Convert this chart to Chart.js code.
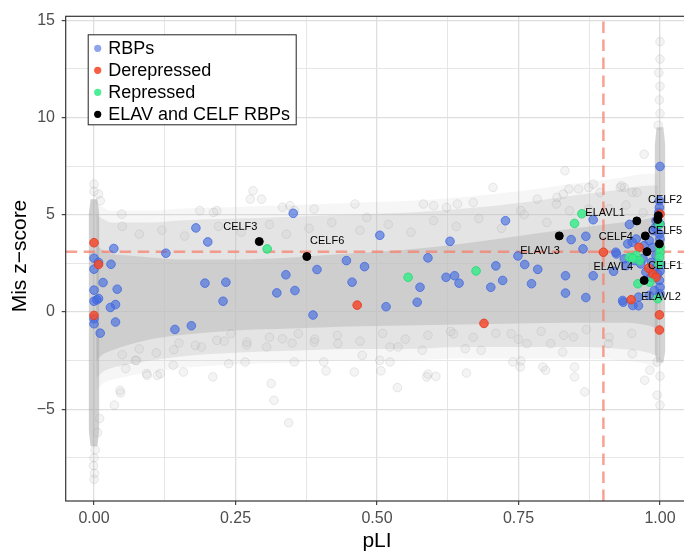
<!DOCTYPE html>
<html>
<head>
<meta charset="UTF-8">
<title>Mis z-score vs pLI</title>
<script src="https://cdn.jsdelivr.net/npm/chart.js@4"></script>
<style>
  html, body { margin: 0; padding: 0; background: #fff; }
  #frame { width: 684px; height: 554px; overflow: hidden; position: relative; }
  #c { display: block; }
</style>
</head>
<body>
<div id="frame"><canvas id="c" width="700" height="554"></canvas></div>
<script>
// axes
const xMajor = [0, 0.25, 0.5, 0.75, 1];
const xLabels = ['0.00', '0.25', '0.50', '0.75', '1.00'];
const xGrid = [0, 0.125, 0.25, 0.375, 0.5, 0.625, 0.75, 0.875, 1];
const yMajor = [-5, 0, 5, 10, 15];
const yLabels = ['\u22125', '0', '5', '10', '15'];
const yGrid = [-7.5, -5, -2.5, 0, 2.5, 5, 7.5, 10, 12.5, 15];

// thresholds (dashed lines)
const zCut = 3.09;
const pliCut = 0.9;

// RBPs  [pLI, mis z]
const rbps = [
  [0.000,2.76],[0.008,2.55],[0.000,2.20],[0.030,2.45],[0.035,3.26],[0.016,1.51],[0.041,1.17],[0.000,1.12],
  [0.008,0.69],[0.000,0.55],[0.005,0.62],[0.038,0.38],[0.029,0.23],[0.038,-0.52],[0.000,-0.61],[0.000,-0.35],
  [0.011,-1.09],[0.127,3.02],[0.180,4.32],[0.201,3.60],[0.143,-0.90],[0.172,-0.71],[0.196,1.48],[0.233,1.53],
  [0.228,0.55],[0.339,1.91],[0.323,0.98],[0.355,1.10],[0.352,5.07],[0.394,2.18],[0.387,-0.16],[0.446,2.64],
  [0.478,2.33],[0.456,1.53],[0.505,3.94],[0.516,0.27],[0.590,2.78],[0.629,3.63],[0.576,1.27],[0.571,0.50],
  [0.622,1.78],[0.637,1.86],[0.645,1.48],[0.710,2.37],[0.701,1.27],[0.722,1.62],[0.727,4.69],[0.749,2.88],
  [0.761,2.44],[0.784,2.19],[0.773,1.45],[0.843,3.72],[0.869,3.89],[0.864,3.24],[0.833,1.86],[0.833,0.97],
  [0.869,0.74],[0.882,1.86],[0.882,4.74],[0.918,2.09],[0.935,0.50],[0.962,0.32],[1.000,7.48],[0.923,2.98],
  [0.946,4.50],[0.951,3.58],[0.922,3.07],[0.937,2.73],[0.940,2.38],[0.955,2.64],[0.966,2.47],[0.981,3.67],
  [0.987,3.32],[0.992,4.35],[0.993,2.90],[0.990,2.22],[0.984,1.78],[0.999,1.62],[1.000,1.27],[1.000,0.93],
  [0.990,1.10],[0.981,0.85],[0.962,0.76],[0.934,0.59],[0.952,0.33],[0.999,5.72],[0.999,5.37],[0.998,5.12],
  [1.000,4.52],[0.999,4.01],[1.000,3.75],[0.993,4.69],[0.988,4.18],[0.972,3.41],[0.958,3.75],[0.943,3.50],
  [1.000,2.10],[1.000,2.45],[0.996,1.95],[0.975,2.05],[0.970,2.75],[0.985,2.55]
];
const derepressed = [
  [0.000,3.56],[0.008,2.44],[0.000,-0.18],[0.465,0.35],[0.689,-0.59],[0.900,3.07],[0.963,3.32],
  [0.987,1.96],[0.993,1.78],[0.949,0.63],[0.999,-0.15],[0.999,-0.93],[1.000,5.03],[0.980,2.25]
];
const repressed = [
  [0.306,3.24],[0.555,1.78],[0.675,2.11],[0.862,5.05],[0.849,4.55],[0.946,2.81],[0.958,2.90],[0.964,2.64],
  [0.961,1.45],[0.982,1.53],[0.999,4.52],[1.000,3.32],[1.000,3.07],[0.999,2.81],[0.998,2.47],[0.996,0.68],[0.952,2.75]
];
const elavCelf = [
  [0.292,3.62],[0.376,2.85],[0.822,3.91],[0.959,4.68],[0.974,3.91],[0.977,3.10],[0.972,1.62],
  [0.997,4.95],[0.996,4.75],[0.999,3.50]
];

// gene name labels, at label positions in data units
const geneNames = ['CELF3', 'CELF6', 'ELAVL3', 'ELAVL1', 'CELF4', 'ELAVL4', 'CELF2', 'CELF5', 'CELF1', 'ELAVL2'];
const geneLabelX = [0.2585, 0.412, 0.788, 0.903, 0.922, 0.9175, 1.009, 1.009, 1.009, 1.0018];
const geneLabelZ = [4.38, 3.63, 3.12, 5.07, 3.87, 2.33, 5.75, 4.18, 2.37, 0.76];

// all genes: dense cloud outline (band) and the columns at pLI 0 and 1
const bandX      = [0.004, 0.015, 0.03, 0.06, 0.10, 0.15, 0.25, 0.35, 0.45, 0.55, 0.65, 0.75, 0.85, 0.93, 0.98, 0.996];
const fringeTop  = [5.6, 5.4, 5.2, 5.2, 5.2, 5.3, 5.4, 5.5, 5.6, 5.7, 5.9, 6.2, 6.6, 6.9, 7.1, 7.1];
const fringeBot  = [-4.0, -3.7, -3.5, -3.3, -3.1, -2.9, -2.7, -2.6, -2.5, -2.5, -2.4, -2.4, -2.4, -2.5, -2.7, -2.9];
const haloTop    = [5.0, 4.8, 4.6, 4.6, 4.6, 4.7, 4.8, 4.9, 5.0, 5.1, 5.3, 5.6, 6.0, 6.3, 6.5, 6.5];
const haloBottom = [-3.4, -3.1, -2.9, -2.7, -2.5, -2.3, -2.1, -2.0, -1.9, -1.9, -1.8, -1.8, -1.8, -1.9, -2.1, -2.3];
const coreTop    = [3.4, 3.2, 3.0, 2.9, 2.8, 2.7, 2.7, 2.8, 3.0, 3.2, 3.5, 3.9, 4.3, 4.6, 4.8, 5.0];
const coreBottom = [-2.5, -2.2, -2.0, -1.7, -1.4, -1.2, -0.95, -0.85, -0.75, -0.7, -0.65, -0.6, -0.55, -0.55, -0.7, -0.9];
const col0X      = [-0.0095, -0.006, 0.006, 0.0095];
const col0Top    = [5.0, 5.8, 5.8, 5.0];
const col0Bottom = [-6.0, -6.9, -6.9, -6.0];
const col1X      = [0.9905, 0.994, 1.006, 1.0095];
const col1Top    = [8.5, 9.5, 9.5, 8.5];
const col1Bottom = [-2.0, -2.6, -2.6, -2.0];

// all genes: sparse points outside the dense cloud
const genes = [
  [0.000,6.57],[0.008,6.06],[0.011,5.72],[0.000,6.20],[0.002,-7.10],[0.000,-7.50],[-0.001,-7.90],[0.001,-8.30],
  [0.000,-8.60],[0.010,-5.48],[0.006,-6.20],[1.000,10.2],[0.999,10.9],[1.000,11.6],[0.998,12.3],[1.000,13.0],
  [1.000,13.9],[0.997,9.60],[1.000,-3.30],[0.995,-4.28],[1.000,-4.79],[0.995,-2.57],
  [0.094,-3.26],[0.112,-3.26],[0.047,-4.16],[0.036,-4.79],[0.073,-2.49],[0.056,-2.91],[0.140,-2.74],[0.158,-3.09],
  [0.210,-3.34],[0.141,-1.94],[0.179,-1.72],[0.238,-2.66],[0.267,-2.57],[0.313,-3.68],[0.318,-4.54],[0.344,-5.70],
  [0.354,-2.57],[0.406,-2.57],[0.410,-3.03],[0.460,-3.09],[0.507,-3.03],[0.523,-2.57],[0.536,-3.89],[0.580,-1.97],
  [0.590,-3.20],[0.604,-3.31],[0.658,-3.14],[0.656,-1.89],[0.740,-2.57],[0.754,-2.52],[0.793,-2.83],[0.798,-3.00],
  [0.828,-2.06],[0.849,-2.83],[0.849,-3.34],[0.867,-4.11],[0.909,-1.63],[0.951,-2.15],[0.523,-1.80],[0.537,-1.80],
  [0.635,-1.12],[0.684,-1.97],[0.737,-1.12],[0.765,-1.63],[0.807,-1.63],[0.431,-1.63],[0.474,-2.23],[0.270,-1.55],
  [0.305,-1.80],[0.333,-1.38],[0.361,-1.12],[0.389,-1.55],[0.217,-1.46],[0.242,-1.12],[0.046,-4.03],[0.075,-2.49],
  [0.093,-3.17],[0.117,-3.17],[0.505,-2.49],[0.588,-3.34],[0.753,-2.83],[0.847,-1.29],[0.982,-3.00],[0.973,-3.51],
  [0.281,6.23],[0.276,5.80],[0.296,5.80],[0.346,5.46],[0.461,5.55],[0.187,5.21],[0.211,5.12],[0.705,6.40],
  [0.829,6.06],[0.817,5.55],[0.832,7.26],[0.839,6.32],[0.856,6.32],[0.874,6.40],[0.930,6.40],[0.972,8.11],
  [0.582,5.55],[0.600,5.46],[0.642,5.55],[0.670,5.63],[0.049,5.03],[0.333,5.38],[0.354,5.21],[0.389,5.29],
  [0.783,5.80],[0.818,5.89],[0.937,6.40],[0.951,6.15],[0.754,5.21],[0.874,5.29],[0.882,6.57],[0.894,6.14],
  [0.932,6.49],[0.959,6.14],[0.482,4.86],[0.623,5.37],[0.217,5.21],
  [0.05,4.4],[0.08,4.0],[0.12,4.2],[0.16,3.9],[0.22,4.4],[0.26,4.1],[0.31,4.5],[0.34,4.0],[0.38,4.3],[0.42,4.6],
  [0.47,4.2],[0.52,4.5],[0.56,4.1],[0.60,4.7],[0.64,4.4],[0.68,4.8],[0.72,4.3],[0.76,5.0],[0.80,4.6],[0.84,5.2],
  [0.88,4.9],[0.91,5.3],[0.94,5.5],[0.97,5.1],
  [0.05,-2.2],[0.08,-1.9],[0.11,-2.1],[0.15,-1.6],[0.19,-1.8],[0.23,-1.5],[0.27,-1.7],[0.31,-1.3],[0.35,-1.6],
  [0.39,-1.4],[0.43,-1.2],[0.47,-1.5],[0.51,-1.1],[0.55,-1.4],[0.59,-1.2],[0.63,-1.0],[0.67,-1.3],[0.71,-1.1],
  [0.75,-1.4],[0.79,-1.0],[0.83,-1.2],[0.87,-0.9],[0.91,-1.3],[0.95,-1.1]
];

const FONT = "'Liberation Sans', Arial, Helvetica, sans-serif";
const near = (list, v) => list.findIndex(m => Math.abs(m - v) < 1e-6);
const toXY = pts => pts.map(p => ({ x: p[0], y: p[1] }));
const lineXY = (xs, ys) => xs.map((x, i) => ({ x: x, y: ys[i] }));

// filled region between an upper and a lower outline
const area = (xs, top, bottom, color, order, smooth) => {
  const shape = smooth ? { cubicInterpolationMode: 'monotone' } : { tension: 0 };
  return [
    Object.assign({ type: 'line', data: lineXY(xs, top), fill: '+1', backgroundColor: color,
      borderColor: 'rgba(0,0,0,0)', borderWidth: 0, pointRadius: 0, order: order }, shape),
    Object.assign({ type: 'line', data: lineXY(xs, bottom), fill: false,
      borderColor: 'rgba(0,0,0,0)', borderWidth: 0, pointRadius: 0, order: order }, shape)
  ];
};

const dots = (pts, fillColor, edge, order, extra) => Object.assign({
  data: toXY(pts), backgroundColor: fillColor, borderColor: edge, borderWidth: 1,
  pointRadius: 4.3, order: order
}, extra || {});

const dashed = (pts, order) => ({
  type: 'line', data: toXY(pts), borderColor: 'rgba(245,130,110,0.75)', borderWidth: 2.5,
  borderDash: [11.5, 6.5], pointRadius: 0, fill: false, order: order
});

const X_MIN = -0.05, X_MAX = 1.05, Y_MIN = -9.72, Y_MAX = 15.2;

const datasets = [].concat(
  area(bandX, fringeTop, fringeBot, 'rgba(190,190,190,0.14)', 10, true),
  area(bandX, haloTop, haloBottom, 'rgba(190,190,190,0.3)', 9, true),
  area(bandX, coreTop, coreBottom, 'rgba(190,190,190,0.55)', 8, true),
  area(col0X, col0Top, col0Bottom, 'rgba(170,170,170,0.55)', 7, false),
  area(col1X, col1Top, col1Bottom, 'rgba(170,170,170,0.5)', 7, false),
  [
    dots(genes, 'rgba(190,190,190,0.17)', 'rgba(160,160,160,0.22)', 6),
    dashed([[X_MIN, zCut], [X_MAX, zCut]], 5),
    dashed([[pliCut, Y_MIN], [pliCut, Y_MAX]], 5),
    dots(rbps, 'rgba(65,105,225,0.62)', 'rgba(65,105,225,0.8)', 3,
      { legendLabel: 'RBPs', legendIndex: 0, legendColor: 'rgba(65,105,225,0.6)' }),
    dots(derepressed, 'rgba(245,75,45,0.85)', 'rgba(225,60,35,0.9)', 2,
      { legendLabel: 'Derepressed', legendIndex: 1, legendColor: 'rgba(245,75,45,0.9)' }),
    dots(repressed, 'rgba(60,235,140,0.85)', 'rgba(45,215,120,0.9)', 1,
      { legendLabel: 'Repressed', legendIndex: 2, legendColor: 'rgba(60,235,140,0.9)' }),
    dots(elavCelf, '#000', '#000', 0,
      { legendLabel: 'ELAV and CELF RBPs', legendIndex: 3, legendColor: '#000', pointRadius: 4 })
  ]
);

const decor = {
  id: 'decor',
  afterDatasetsDraw(chart) {
    const { ctx, chartArea: a, scales: { x, y } } = chart;
    ctx.save();
    // panel border
    ctx.strokeStyle = '#333';
    ctx.lineWidth = 1.2;
    ctx.strokeRect(a.left, a.top, a.right - a.left, a.bottom - a.top);

    // gene labels
    ctx.fillStyle = '#000';
    ctx.font = '11px ' + FONT;
    ctx.textAlign = 'center';
    ctx.textBaseline = 'middle';
    geneNames.forEach((n, i) => {
      ctx.fillText(n, x.getPixelForValue(geneLabelX[i]), y.getPixelForValue(geneLabelZ[i]));
    });

    // legend
    const items = chart.data.datasets.filter(d => d.legendLabel)
      .sort((p, q) => p.legendIndex - q.legendIndex);
    const bx = a.left + 22.5, by = a.top + 18.5, bw = 208, bh = 90;
    ctx.fillStyle = '#fff';
    ctx.fillRect(bx, by, bw, bh);
    ctx.strokeStyle = '#222';
    ctx.lineWidth = 1;
    ctx.strokeRect(bx, by, bw, bh);
    ctx.font = '18px ' + FONT;
    ctx.textAlign = 'left';
    items.forEach((d, i) => {
      const cy = by + 13.5 + i * 22;
      ctx.beginPath();
      ctx.arc(bx + 9.5, cy, 3.6, 0, Math.PI * 2);
      ctx.fillStyle = d.legendColor;
      ctx.fill();
      ctx.fillStyle = '#000';
      ctx.fillText(d.legendLabel, bx + 20, cy + 1);
    });
    ctx.restore();
  },
  afterDraw(chart) {
    const { ctx, chartArea: a } = chart;
    ctx.save();
    ctx.fillStyle = '#000';
    ctx.font = '21px ' + FONT;
    ctx.textAlign = 'center';
    ctx.textBaseline = 'middle';
    ctx.fillText('pLI', (a.left + a.right) / 2, 541);
    ctx.translate(20, 256);
    ctx.rotate(-Math.PI / 2);
    ctx.fillText('Mis z\u2212score', 0, 0);
    ctx.restore();
  }
};

const gridOpts = (major) => ({
  color: c => near(major, c.tick.value) >= 0 ? '#dedede' : '#e6e6e6',
  lineWidth: c => near(major, c.tick.value) >= 0 ? 1.3 : 1,
  tickColor: c => near(major, c.tick.value) >= 0 ? '#333' : 'rgba(0,0,0,0)',
  tickLength: 4,
  tickWidth: 1.1,
  drawTicks: true
});

new Chart(document.getElementById('c'), {
  type: 'scatter',
  data: { datasets: datasets },
  options: {
    responsive: false,
    animation: false,
    devicePixelRatio: 1,
    events: [],
    layout: { padding: { top: 15, right: 11.7, bottom: 0, left: 0 } },
    plugins: { legend: { display: false }, tooltip: { enabled: false } },
    scales: {
      x: {
        type: 'linear', min: X_MIN, max: X_MAX,
        afterBuildTicks: ax => { ax.ticks = xGrid.map(v => ({ value: v })); },
        afterFit: ax => { ax.height = 53; },
        grid: gridOpts(xMajor),
        border: { display: false },
        ticks: {
          autoSkip: false, maxRotation: 0, padding: 4, color: '#4d4d4d',
          font: { family: FONT, size: 16 },
          callback: v => { const i = near(xMajor, v); return i >= 0 ? xLabels[i] : ''; }
        }
      },
      y: {
        type: 'linear', min: Y_MIN, max: Y_MAX,
        afterBuildTicks: ax => { ax.ticks = yGrid.map(v => ({ value: v })); },
        afterFit: ax => { ax.width = 65.7; },
        grid: gridOpts(yMajor),
        border: { display: false },
        ticks: {
          autoSkip: false, padding: 6.7, color: '#4d4d4d',
          font: { family: FONT, size: 16 },
          callback: v => { const i = near(yMajor, v); return i >= 0 ? yLabels[i] : ''; }
        }
      }
    }
  },
  plugins: [decor]
});
</script>
</body>
</html>
